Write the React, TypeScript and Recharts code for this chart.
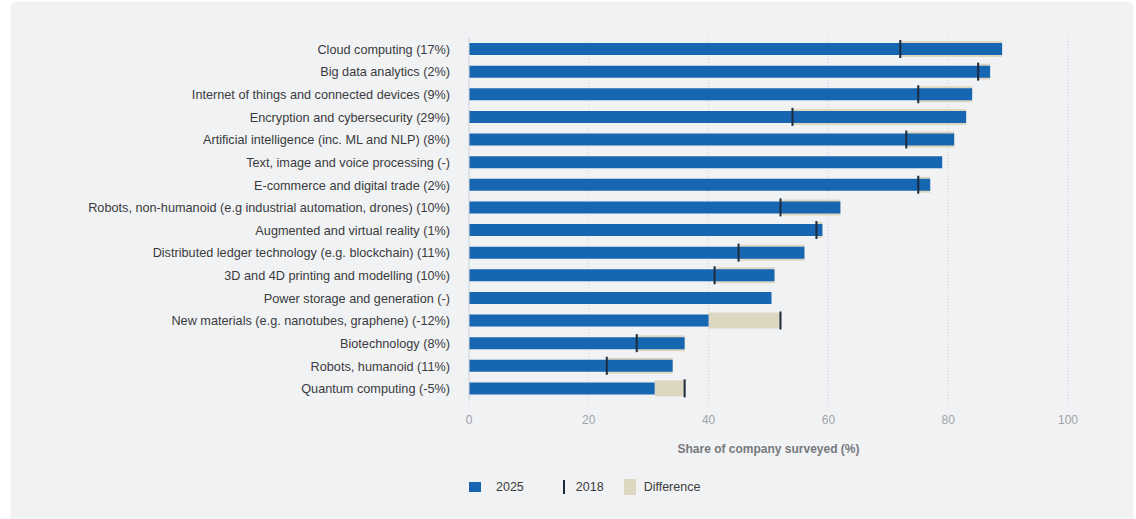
import { ComposedChart, Bar, XAxis, YAxis, CartesianGrid } from "recharts";

const categories = [
  "Cloud computing (17%)",
  "Big data analytics (2%)",
  "Internet of things and connected devices (9%)",
  "Encryption and cybersecurity (29%)",
  "Artificial intelligence (inc. ML and NLP) (8%)",
  "Text, image and voice processing (-)",
  "E-commerce and digital trade (2%)",
  "Robots, non-humanoid (e.g industrial automation, drones) (10%)",
  "Augmented and virtual reality (1%)",
  "Distributed ledger technology (e.g. blockchain) (11%)",
  "3D and 4D printing and modelling (10%)",
  "Power storage and generation (-)",
  "New materials (e.g. nanotubes, graphene) (-12%)",
  "Biotechnology (8%)",
  "Robots, humanoid (11%)",
  "Quantum computing (-5%)",
];
const share2025 = [89, 87, 84, 83, 81, 79, 77, 62, 59, 56, 51, 50.5, 40, 36, 34, 31];
const share2018: (number | null)[] = [72, 85, 75, 54, 73, null, 75, 52, 58, 45, 41, null, 52, 28, 23, 36];
const xTicks = [0, 20, 40, 60, 80, 100];

const BLUE = "#1766b2";
const BEIGE = "#ddd6c1";
const MARK = "#1c2b3d";

const data = categories.map((name, i) => {
  const a = share2025[i];
  const b = share2018[i];
  return {
    name,
    y2025: a,
    y2018: b,
    diff: b == null ? null : [Math.min(a, b), Math.max(a, b)],
  };
});

function MarkerShape(props: any) {
  const { x, y, width, height, payload } = props;
  if (!payload || payload.y2018 == null) return null;
  const mx = payload.y2018 <= payload.y2025 ? x : x + width;
  return <rect x={mx - 1} y={y} width={2} height={height} fill={MARK} />;
}

const font = "'Liberation Sans', Arial, Helvetica, sans-serif";

export default function App() {
  return (
    <div style={{ position: "absolute", left: 0, top: 0, width: 1136, height: 519, background: "#fff", overflow: "hidden", fontFamily: font }}>
      <div
        style={{
          position: "absolute",
          left: 13,
          top: 4,
          width: 1118,
          height: 530,
          background: "#f1f2f4",
          boxShadow: "0 0 4px rgba(0,0,0,0.18)",
        }}
      >
        <ComposedChart
          width={1118}
          height={460}
          data={data}
          layout="vertical"
          margin={{ top: 34, right: 63, bottom: 4, left: 0 }}
        >
          <CartesianGrid horizontal={false} stroke="#cfd2d6" strokeDasharray="1 2" />
          <XAxis
            type="number"
            domain={[0, 100]}
            ticks={xTicks}
            axisLine={false}
            tickLine={{ stroke: "#cfd2d6", strokeDasharray: "1 2" }}
            tickSize={6}
            tickMargin={9}
            tick={{ fill: "#a0a3a8", fontSize: 12, fontFamily: font }}
            height={60}
            label={{ value: "Share of company surveyed (%)", position: "insideBottom", offset: 7, fill: "#77797d", fontSize: 12, fontWeight: 700, fontFamily: font }}
          />
          <YAxis
            yAxisId="main"
            type="category"
            dataKey="name"
            width={456}
            axisLine={{ stroke: "#d3d6da" }}
            tickLine={false}
            tickSize={6}
            tickMargin={13}
            interval={0}
            tick={{ fill: "#3a3b3d", fontSize: 12.7, fontFamily: font }}
          />
          <YAxis yAxisId="blue" type="category" dataKey="name" width={0} hide />
          <YAxis yAxisId="mark" type="category" dataKey="name" width={0} hide />
          <Bar yAxisId="main" dataKey="diff" name="Difference" fill={BEIGE} barSize={16} isAnimationActive={false} />
          <Bar yAxisId="blue" dataKey="y2025" name="2025" fill={BLUE} barSize={12} isAnimationActive={false} />
          <Bar yAxisId="mark" dataKey="diff" name="2018" barSize={18} shape={MarkerShape} isAnimationActive={false} />
        </ComposedChart>
        <div style={{ position: "absolute", left: 456, top: 475, display: "flex", alignItems: "center", fontSize: 12.5, color: "#3a3b3d" }}>
          <span style={{ display: "inline-block", width: 12, height: 10, background: BLUE }} />
          <span style={{ marginLeft: 15 }}>2025</span>
          <span style={{ display: "inline-block", width: 2, height: 14, background: MARK, marginLeft: 39 }} />
          <span style={{ marginLeft: 11 }}>2018</span>
          <span style={{ display: "inline-block", width: 12, height: 16, background: BEIGE, marginLeft: 20 }} />
          <span style={{ marginLeft: 8 }}>Difference</span>
        </div>
      </div>
    </div>
  );
}
